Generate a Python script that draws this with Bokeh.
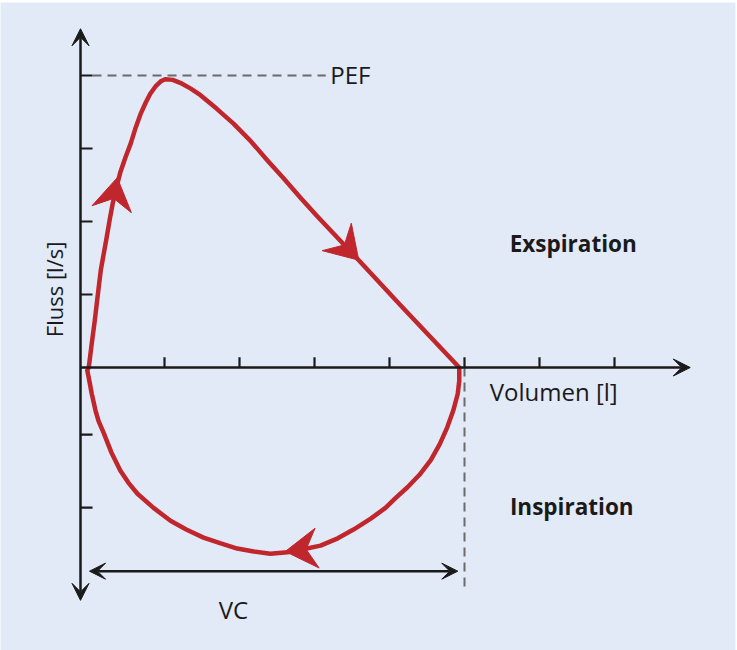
import numpy as np
from bokeh.plotting import figure
from bokeh.models import Arrow, VeeHead, Range1d
from bokeh.core.properties import value
from bokeh.embed import file_html
from bokeh.resources import INLINE

# ---- data (volume in l, flow in l/s) ----
exp_volume = [-0.01, 0.03, 0.07, 0.11, 0.15, 0.19, 0.23, 0.27, 0.31, 0.36, 0.41,
              0.48, 0.55, 0.61, 0.68, 0.75, 0.81, 0.88, 0.95, 1.01, 1.11, 1.21,
              1.35, 1.48, 1.69, 1.92, 2.15, 2.37, 2.59, 2.81, 3.03, 3.25, 3.59,
              4.15, 4.93]
exp_flow = [0.00, 0.33, 0.64, 0.99, 1.33, 1.56, 1.79, 2.03, 2.25, 2.47, 2.67,
            2.88, 3.07, 3.27, 3.47, 3.63, 3.75, 3.85, 3.92, 3.95, 3.94, 3.90,
            3.82, 3.73, 3.55, 3.34, 3.10, 2.84, 2.59, 2.33, 2.08, 1.84, 1.47,
            0.85, 0.00]
insp_volume = [4.93, 4.93, 4.91, 4.85, 4.77, 4.67, 4.55, 4.40, 4.24, 4.08, 3.95,
               3.75, 3.52, 3.31, 3.08, 2.85, 2.64, 2.41, 2.19, 1.97, 1.75, 1.52,
               1.29, 1.08, 0.85, 0.64, 0.52, 0.41, 0.29, 0.19, 0.12, 0.08, 0.03,
               -0.01, -0.03, -0.01]
insp_flow = [0.00, -0.18, -0.36, -0.59, -0.82, -1.05, -1.27, -1.47, -1.64, -1.79, -1.92,
             -2.07, -2.22, -2.34, -2.44, -2.49, -2.53, -2.55, -2.52, -2.48, -2.41, -2.33,
             -2.22, -2.10, -1.92, -1.73, -1.58, -1.41, -1.16, -0.90, -0.73, -0.59, -0.36,
             -0.14, -0.04, 0.00]

# direction arrows on the loop: (from point) -> (tip)
dir_from_x = [0.31, 3.25, 3.08]
dir_from_y = [2.25, 1.84, -2.47]
dir_tip_x = [0.37, 3.59, 2.61]
dir_tip_y = [2.60, 1.47, -2.52]

# axes
x_ticks = [1, 2, 3, 4, 5, 6, 7]
y_ticks = [4, 3, 2, 1, -0.92, -1.92]
y_axis_at = -0.12
y_axis_top = 4.64
y_axis_bottom = -3.19
x_axis_end = 8.01

# reference marks
pef_value = 4.0
pef_dash_end = 3.15
vc_start = 0.0
vc_end = 4.91
vc_level = -2.79
vc_marker_x = 5.0
vc_marker_bottom = -3.08

# text labels
label_text = ["PEF", "Volumen [l]", "VC"]
label_x = [3.21, 6.19, 1.92]
label_y = [4.01, -0.33, -3.32]
label_align = ["left", "center", "center"]
bold_text = ["Exspiration", "Inspiration"]
bold_x = [6.45, 6.43]
bold_y = [1.70, -1.91]
ylabel_text = "Fluss [l/s]"
ylabel_x = -0.48
ylabel_y = 1.07

BG = "#e2e9f7"
RED = "#c0272d"
INK = "#1a1a1a"
GREY = "#6b6b6b"
FONT = value("Open Sans")

X0, X1 = -1.1867, 8.6133
Y0, Y1 = -3.8767, 5.0
W, H = 737, 650
BT, BR = 2, 2

p = figure(width=W, height=H,
           x_range=Range1d(X0, X1), y_range=Range1d(Y0, Y1),
           x_axis_type=None, y_axis_type=None,
           toolbar_location=None, output_backend="svg",
           min_border=0, min_border_top=BT, min_border_right=BR,
           min_border_left=0, min_border_bottom=0,
           background_fill_color=BG, border_fill_color="white",
           outline_line_color=None)
p.grid.visible = False

# pixel scale of the frame (for arrowhead geometry)
sx = (W - BR) / (X1 - X0)
sy = (H - BT) / (Y1 - Y0)

# axes with arrowheads
def black_head():
    return VeeHead(size=17, fill_color=INK, line_color=INK, line_width=1)

p.add_layout(Arrow(start=black_head(), end=black_head(),
                   x_start=y_axis_at, y_start=y_axis_bottom, x_end=y_axis_at, y_end=y_axis_top,
                   line_color=INK, line_width=2.5))
p.add_layout(Arrow(end=black_head(),
                   x_start=y_axis_at, y_start=0, x_end=x_axis_end, y_end=0,
                   line_color=INK, line_width=2.5))

# ticks (inward / upward), tick length in data units
ytick_len = 0.16
xtick_len = 0.14
p.segment(x0=[y_axis_at] * len(y_ticks), y0=y_ticks,
          x1=[y_axis_at + ytick_len] * len(y_ticks), y1=y_ticks,
          line_color=INK, line_width=2.2)
p.segment(x0=x_ticks, y0=[0] * len(x_ticks), x1=x_ticks, y1=[xtick_len] * len(x_ticks),
          line_color=INK, line_width=2.2)

# dashed guide lines
p.line([y_axis_at + ytick_len, pef_dash_end], [pef_value, pef_value],
       line_color=GREY, line_width=2, line_dash="9 6")
p.line([vc_marker_x, vc_marker_x], [0, vc_marker_bottom],
       line_color=GREY, line_width=2, line_dash="9 6")

# VC double arrow
p.add_layout(Arrow(start=VeeHead(size=16, fill_color=INK, line_color=INK, line_width=1),
                   end=VeeHead(size=16, fill_color=INK, line_color=INK, line_width=1),
                   x_start=vc_start, y_start=vc_level, x_end=vc_end, y_end=vc_level,
                   line_color=INK, line_width=2.5))

# the flow-volume loop
loop_x = exp_volume + insp_volume[1:]
loop_y = exp_flow + insp_flow[1:]
p.line(loop_x, loop_y, line_color=RED, line_width=4.5, line_join="round")

# stealth-shaped direction heads (size given in screen pixels)
HEAD_LEN, HEAD_HALF_W, HEAD_NOTCH = 32.0, 20.0, 21.0
hx, hy = [], []
for fx, fy, tx, ty in zip(dir_from_x, dir_from_y, dir_tip_x, dir_tip_y):
    dx, dy = (tx - fx) * sx, (ty - fy) * sy
    n = np.hypot(dx, dy)
    ux, uy = dx / n, dy / n
    px, py = -uy, ux
    pts = [(0, 0),
           (-HEAD_LEN * ux + HEAD_HALF_W * px, -HEAD_LEN * uy + HEAD_HALF_W * py),
           (-HEAD_NOTCH * ux, -HEAD_NOTCH * uy),
           (-HEAD_LEN * ux - HEAD_HALF_W * px, -HEAD_LEN * uy - HEAD_HALF_W * py)]
    hx.append([tx + a / sx for a, b in pts])
    hy.append([ty + b / sy for a, b in pts])
p.patches(hx, hy, fill_color=RED, line_color=RED, line_width=1, line_join="miter")

# texts
for t, x, y, a in zip(label_text, label_x, label_y, label_align):
    p.text(x=[x], y=[y], text=[t], text_font=FONT, text_font_size="24px",
           text_align=a, text_baseline="alphabetic", text_color=INK)
p.text(x=bold_x, y=bold_y, text=bold_text, text_font=FONT, text_font_size="22.5px",
       text_font_style="bold", text_align="center", text_baseline="alphabetic",
       text_color=INK)
p.text(x=[ylabel_x], y=[ylabel_y], text=[ylabel_text], angle=np.pi / 2,
       text_font=FONT, text_font_size="22px", text_align="center",
       text_baseline="alphabetic", text_color=INK)

open("out.html", "w").write(file_html(p, INLINE))
